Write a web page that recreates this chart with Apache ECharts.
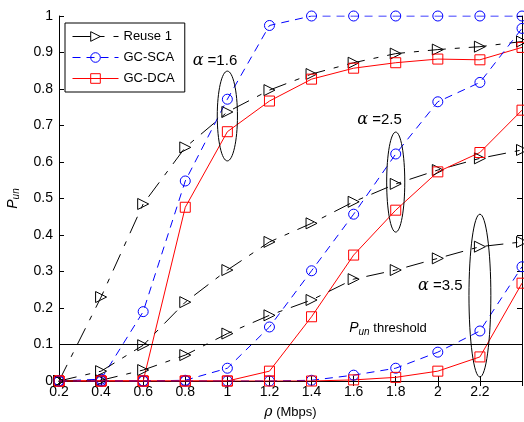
<!DOCTYPE html>
<html>
<head>
<meta charset="utf-8">
<script src="https://cdn.jsdelivr.net/npm/echarts@6/dist/echarts.min.js"></script>
<style>
  html, body { margin: 0; padding: 0; background: #fff; }
  #main { width: 524px; height: 422px; }
</style>
</head>
<body>
<div id="main"></div>
<script>
// x values (rho, Mbps)
var rho = [0.2, 0.4, 0.6, 0.8, 1.0, 1.2, 1.4, 1.6, 1.8, 2.0, 2.2, 2.4];

// alpha = 1.6
var reuse16 = [0, 0.23, 0.485, 0.64, 0.737, 0.797, 0.841, 0.872, 0.897, 0.908, 0.916, 0.93];
var sca16   = [0, 0.005, 0.19, 0.548, 0.772, 0.974, 1, 1, 1, 1, 1, 1];
var dca16   = [0, 0, 0, 0.476, 0.683, 0.767, 0.827, 0.857, 0.872, 0.882, 0.88, 0.914];
// alpha = 2.5
var reuse25 = [0, 0.027, 0.098, 0.216, 0.304, 0.381, 0.432, 0.491, 0.54, 0.578, 0.61, 0.633];
var sca25   = [0, 0, 0, 0.002, 0.035, 0.148, 0.302, 0.457, 0.622, 0.765, 0.818, 0.966];
var dca25   = [0, 0, 0, 0, 0, 0.027, 0.176, 0.345, 0.468, 0.573, 0.626, 0.742];
// alpha = 3.5
var reuse35 = [0, 0.002, 0.03, 0.071, 0.13, 0.18, 0.222, 0.279, 0.304, 0.336, 0.368, 0.381];
var sca35   = [0, 0, 0, 0, 0, 0, 0.002, 0.016, 0.035, 0.079, 0.137, 0.313];
var dca35   = [0, 0, 0, 0, 0, 0, 0, 0.003, 0.01, 0.027, 0.066, 0.268];

var threshold = 0.1;

// annotation groups: label, label anchor, ellipse centre and radii (data units)
var groups = [
  { text: '1.6', tx: 0.835, ty: 0.877, cx: 1.0, cy: 0.726, rx: 0.048, ry: 0.123 },
  { text: '2.5', tx: 1.617, ty: 0.715, cx: 1.8, cy: 0.545, rx: 0.043, ry: 0.137 },
  { text: '3.5', tx: 1.906, ty: 0.260, cx: 2.2, cy: 0.234, rx: 0.052, ry: 0.223 }
];

var font = 'Liberation Sans, Arial, sans-serif';

function pairs(arr) {
  return rho.map(function (r, i) { return [r, arr[i]]; });
}

var reuseStyle = {
  type: 'line', symbol: 'triangle', symbolSize: 11, symbolRotate: -90,
  lineStyle: { color: '#000', width: 1, type: [18, 9, 5, 9] },
  itemStyle: { color: 'rgba(0,0,0,0)', borderColor: '#000', borderWidth: 1 }
};
var scaStyle = {
  type: 'line', symbol: 'circle', symbolSize: 10,
  lineStyle: { color: '#0000ff', width: 1, type: [8, 6] },
  itemStyle: { color: 'rgba(0,0,0,0)', borderColor: '#0000ff', borderWidth: 1 }
};
var dcaStyle = {
  type: 'line', symbol: 'rect', symbolSize: 10,
  lineStyle: { color: '#ff0000', width: 1, type: 'solid' },
  itemStyle: { color: 'rgba(0,0,0,0)', borderColor: '#ff0000', borderWidth: 1 }
};

function mk(name, style, arr) {
  return Object.assign({ name: name, data: pairs(arr), animation: false, z: 3 }, style);
}

var series = [
  mk('Reuse 1', reuseStyle, reuse16),
  mk('GC-SCA', scaStyle, sca16),
  mk('GC-DCA', dcaStyle, dca16),
  mk('Reuse 1', reuseStyle, reuse25),
  mk('GC-SCA', scaStyle, sca25),
  mk('GC-DCA', dcaStyle, dca25),
  mk('Reuse 1', reuseStyle, reuse35),
  mk('GC-SCA', scaStyle, sca35),
  mk('GC-DCA', dcaStyle, dca35)
];
series[0].markLine = {
  silent: true, symbol: 'none', label: { show: false },
  lineStyle: { color: '#000', width: 1, type: 'solid' },
  data: [{ yAxis: threshold }]
};

var axisLine = { show: true, lineStyle: { color: '#000', width: 1 } };
var axisTick = { show: true, inside: true, length: 5, lineStyle: { color: '#000' } };

var chartDom = document.getElementById('main');
var myChart = echarts.init(chartDom, null, { renderer: 'canvas' });
var option;

option = {
  animation: false,
  backgroundColor: '#fff',
  grid: { left: 59, right: 2, top: 16, bottom: 41, containLabel: false, outerBoundsMode: 'none' },
  legend: {
    data: ['Reuse 1', 'GC-SCA', 'GC-DCA'],
    orient: 'vertical',
    left: 65, top: 23,
    padding: [7, 10, 7, 7],
    itemGap: 8,
    itemWidth: 46, itemHeight: 12,
    backgroundColor: '#fff',
    borderColor: '#000', borderWidth: 1,
    lineStyle: { width: 1 },
    itemStyle: { borderWidth: 1 },
    textStyle: { fontFamily: font, fontSize: 13, color: '#000' }
  },
  xAxis: [{
    type: 'value', min: 0.2, max: 2.4, interval: 0.2,
    name: '{g|ρ} (Mbps)', nameLocation: 'middle', nameGap: 24,
    nameTextStyle: {
      fontFamily: font, fontSize: 13, color: '#000',
      rich: { g: { fontFamily: 'DejaVu Serif', fontStyle: 'italic', fontSize: 14, color: '#000' } }
    },
    axisLine: axisLine, axisTick: axisTick, splitLine: { show: false },
    axisLabel: {
      fontFamily: font, fontSize: 14, color: '#000', margin: 4,
      formatter: function (v) { return v > 2.3 ? '' : String(+v.toFixed(1)); }
    }
  }, {
    type: 'value', min: 0.2, max: 2.4, interval: 0.2, position: 'top',
    axisLine: axisLine, axisTick: axisTick, splitLine: { show: false },
    axisLabel: { show: false }
  }],
  yAxis: [{
    type: 'value', min: 0, max: 1, interval: 0.1,
    name: '{p|P}{s|un}', nameLocation: 'middle', nameGap: 38, nameRotate: 90,
    nameTextStyle: {
      color: '#000',
      rich: {
        p: { fontFamily: font, fontStyle: 'italic', fontSize: 14, color: '#000' },
        s: { fontFamily: font, fontStyle: 'italic', fontSize: 10, color: '#000', verticalAlign: 'bottom', padding: [6, 0, 0, 0] }
      }
    },
    axisLine: axisLine, axisTick: axisTick, splitLine: { show: false },
    axisLabel: {
      fontFamily: font, fontSize: 14, color: '#000', margin: 6,
      formatter: function (v) { return String(+v.toFixed(1)); }
    }
  }, {
    type: 'value', min: 0, max: 1, interval: 0.1, position: 'right',
    axisLine: axisLine, axisTick: axisTick, splitLine: { show: false },
    axisLabel: { show: false }
  }],
  series: series
};

option && myChart.setOption(option);

// annotations placed through the chart's own coordinate system
function px(x, y) {
  return myChart.convertToPixel({ xAxisIndex: 0, yAxisIndex: 0 }, [x, y]);
}
var graphics = [];
groups.forEach(function (g) {
  var c = px(g.cx, g.cy);
  var e = px(g.cx + g.rx, g.cy + g.ry);
  graphics.push({
    type: 'ellipse', z: 10,
    shape: { cx: c[0], cy: c[1], rx: Math.abs(e[0] - c[0]), ry: Math.abs(c[1] - e[1]) },
    style: { fill: 'none', stroke: '#000', lineWidth: 1 }
  });
  var t = px(g.tx, g.ty);
  graphics.push({
    type: 'text', z: 10, x: t[0], y: t[1],
    style: {
      text: '{a|α} =' + g.text,
      verticalAlign: 'middle', align: 'left',
      font: '15px ' + font, fill: '#000',
      rich: { a: { fontFamily: 'DejaVu Serif', fontStyle: 'italic', fontSize: 16, fill: '#000' } }
    }
  });
});
var th = px(1.579, 0.145);
graphics.push({
  type: 'text', z: 10, x: th[0], y: th[1],
  style: {
    text: '{p|P}{s|un} threshold',
    verticalAlign: 'middle', align: 'left',
    font: '13px ' + font, fill: '#000',
    rich: {
      p: { fontFamily: font, fontStyle: 'italic', fontSize: 14, fill: '#000' },
      s: { fontFamily: font, fontStyle: 'italic', fontSize: 10, fill: '#000', padding: [8, 0, 0, 0] }
    }
  }
});
myChart.setOption({ graphic: graphics });
</script>
</body>
</html>
